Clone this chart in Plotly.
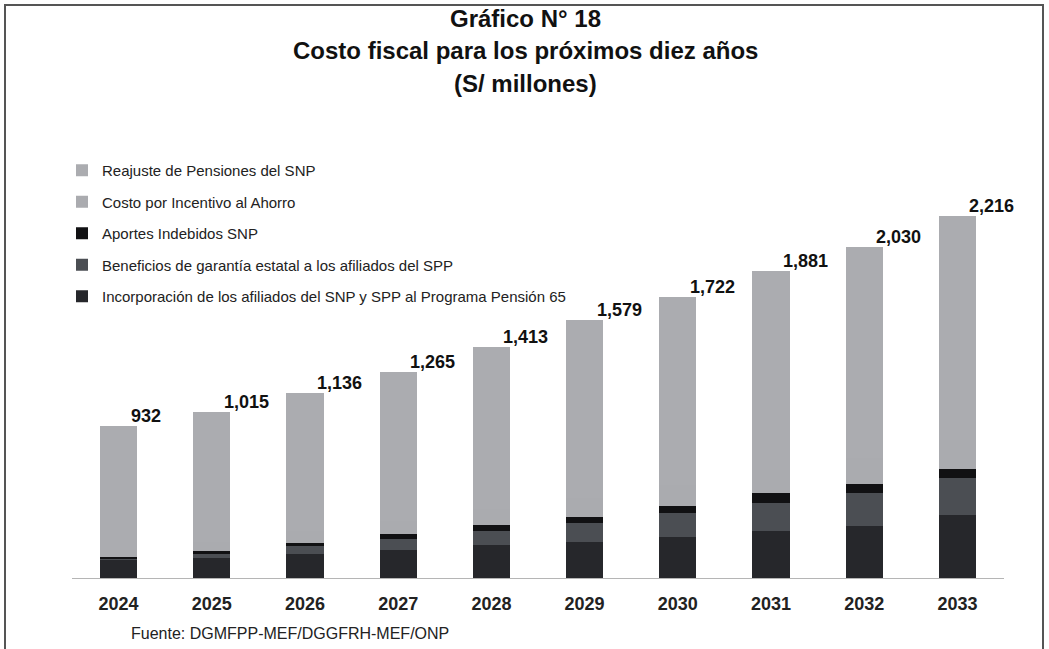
import plotly.graph_objects as go

years = ["2024", "2025", "2026", "2027", "2028", "2029", "2030", "2031", "2032", "2033"]
totals = [932, 1015, 1136, 1265, 1413, 1579, 1722, 1881, 2030, 2216]
total_labels = ["932", "1,015", "1,136", "1,265", "1,413", "1,579", "1,722", "1,881", "2,030", "2,216"]

incorporacion = [116, 120, 148, 172, 203, 219, 250, 290, 317, 388]
beneficios = [6, 28, 51, 65, 87, 118, 146, 172, 201, 223]
aportes = [8, 16, 18, 30, 35, 39, 43, 57, 57, 59]
incentivo = [40, 55, 70, 85, 100, 115, 130, 145, 160, 175]
reajuste = [762, 796, 849, 913, 988, 1088, 1153, 1217, 1295, 1371]

series = [
    ("Incorporación de los afiliados del SNP y SPP al Programa Pensión 65", incorporacion, "#26272b"),
    ("Beneficios de garantía estatal a los afiliados del SPP", beneficios, "#4b4e53"),
    ("Aportes Indebidos SNP", aportes, "#111113"),
    ("Costo por Incentivo al Ahorro", incentivo, "#aaabaf"),
    ("Reajuste de Pensiones del SNP", reajuste, "#abacb0"),
]

NARROW = "Liberation Sans Narrow, Arial Narrow, Liberation Sans, Arial, sans-serif"
REG = "Liberation Sans, Arial, sans-serif"

fig = go.Figure()
for i, (name, vals, col) in enumerate(series):
    fig.add_trace(go.Bar(
        x=years, y=vals, name=name, marker=dict(color=col, line=dict(width=0)),
        legendgroup=f"g{i}", legendrank=100 - i, hoverinfo="skip",
    ))

for idx, (tot, lab) in enumerate(zip(totals, total_labels)):
    fig.add_annotation(
        x=idx, y=tot, text=f"<b>{lab}</b>", showarrow=False,
        xanchor="left", yanchor="bottom", xshift=10, yshift=-2,
        font=dict(family=NARROW, size=18, color="#111111"),
    )

L, R, T, B = 72, 45, 100, 71
W, H = 1049, 649
pw, ph = W - L - R, H - T - B

def px_x(x):
    return (x - L) / pw

def px_y(y):
    return (H - B - y) / ph

title_lines = [("Gráfico N° 18", 18), ("Costo fiscal para los próximos diez años", 51), ("(S/ millones)", 84)]
for txt, yy in title_lines:
    fig.add_annotation(
        x=px_x(525), y=px_y(yy), xref="paper", yref="paper", text=f"<b>{txt}</b>",
        showarrow=False, xanchor="center", yanchor="middle",
        font=dict(family=NARROW, size=24, color="#111111"),
    )

fig.add_annotation(
    x=px_x(129), y=px_y(633), xref="paper", yref="paper",
    text="Fuente: DGMFPP-MEF/DGGFRH-MEF/ONP", showarrow=False,
    xanchor="left", yanchor="middle",
    font=dict(family=REG, size=16, color="#222222"),
)

fig.add_shape(
    type="rect", xref="paper", yref="paper",
    x0=px_x(5), x1=px_x(1043), y0=px_y(5), y1=px_y(700),
    line=dict(color="#555555", width=2), fillcolor="rgba(0,0,0,0)", layer="above",
)

fig.update_layout(
    width=W, height=H,
    margin=dict(l=L, r=R, t=T, b=B),
    paper_bgcolor="white", plot_bgcolor="white",
    barmode="stack", bargap=0.6,
    showlegend=True,
    legend=dict(
        x=px_x(62), y=px_y(154), xanchor="left", yanchor="top",
        traceorder="grouped", tracegroupgap=9,
        font=dict(family=NARROW, size=15, color="#222222"),
        bgcolor="rgba(0,0,0,0)", itemwidth=30,
    ),
    xaxis=dict(
        type="category", range=[-0.5, 9.5], showgrid=False, zeroline=False,
        showline=True, linecolor="#b5b5b5", linewidth=1,
        ticks="", ticklabelstandoff=9,
        tickfont=dict(family=NARROW, size=18, color="#222222"),
        tickprefix="<b>", ticksuffix="</b>",
    ),
    yaxis=dict(range=[0, ph / 0.1632], visible=False, showgrid=False, zeroline=False),
    font=dict(family=REG),
)

fig.write_html("out.html")
